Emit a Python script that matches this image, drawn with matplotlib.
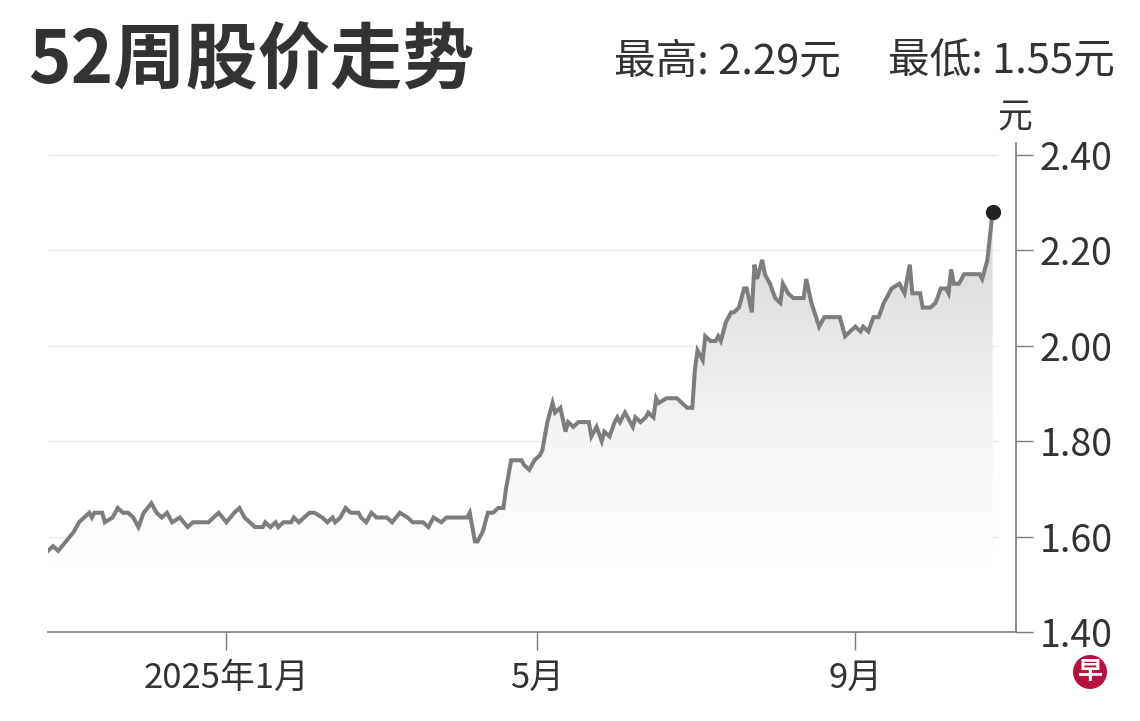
import matplotlib
matplotlib.use("Agg")
import matplotlib.pyplot as plt
import matplotlib.dates as mdates
from matplotlib.colors import LinearSegmentedColormap
from matplotlib.patches import Circle
import numpy as np
import pandas as pd

plt.rcParams['font.family'] = ['Noto Sans CJK SC', 'DejaVu Sans']

title = "52周股价走势"
high_label = "最高: 2.29元"
low_label = "最低: 1.55元"
unit = "元"

dates = [
    "2024-10-24", "2024-10-26", "2024-10-28", "2024-11-03", "2024-11-05", "2024-11-09",
    "2024-11-10", "2024-11-11", "2024-11-14", "2024-11-15", "2024-11-18", "2024-11-20",
    "2024-11-22", "2024-11-24", "2024-11-26", "2024-11-28", "2024-11-30", "2024-12-03",
    "2024-12-05", "2024-12-07", "2024-12-09", "2024-12-11", "2024-12-14", "2024-12-17",
    "2024-12-19", "2024-12-25", "2024-12-29",
    "2025-01-01", "2025-01-04", "2025-01-06", "2025-01-08", "2025-01-12", "2025-01-15",
    "2025-01-16", "2025-01-18", "2025-01-20", "2025-01-21", "2025-01-23", "2025-01-26",
    "2025-01-27", "2025-01-29",
    "2025-02-02", "2025-02-04", "2025-02-07", "2025-02-09", "2025-02-11", "2025-02-12",
    "2025-02-14", "2025-02-16", "2025-02-18", "2025-02-21", "2025-02-22", "2025-02-24",
    "2025-02-26", "2025-02-28",
    "2025-03-04", "2025-03-06", "2025-03-09", "2025-03-12", "2025-03-14", "2025-03-18",
    "2025-03-20", "2025-03-22", "2025-03-25", "2025-03-27",
    "2025-04-04", "2025-04-05", "2025-04-07", "2025-04-08", "2025-04-10", "2025-04-12",
    "2025-04-14", "2025-04-16", "2025-04-18", "2025-04-19", "2025-04-21", "2025-04-23",
    "2025-04-25", "2025-04-26", "2025-04-28", "2025-04-30",
    "2025-05-02", "2025-05-03", "2025-05-05", "2025-05-07", "2025-05-08", "2025-05-10",
    "2025-05-12", "2025-05-13", "2025-05-15", "2025-05-17", "2025-05-21", "2025-05-22",
    "2025-05-24", "2025-05-26", "2025-05-27", "2025-05-29", "2025-05-31",
    "2025-06-01", "2025-06-02", "2025-06-04", "2025-06-05", "2025-06-07", "2025-06-08",
    "2025-06-10", "2025-06-12", "2025-06-13", "2025-06-15", "2025-06-16", "2025-06-17",
    "2025-06-20", "2025-06-24", "2025-06-26", "2025-06-28", "2025-06-30",
    "2025-07-01", "2025-07-02", "2025-07-04", "2025-07-05", "2025-07-07", "2025-07-09",
    "2025-07-10", "2025-07-11", "2025-07-13", "2025-07-15", "2025-07-16", "2025-07-18",
    "2025-07-20", "2025-07-21", "2025-07-23", "2025-07-24", "2025-07-25", "2025-07-27",
    "2025-07-28", "2025-07-30",
    "2025-08-01", "2025-08-03", "2025-08-04", "2025-08-06", "2025-08-08", "2025-08-12",
    "2025-08-13", "2025-08-15", "2025-08-18", "2025-08-20", "2025-08-23", "2025-08-26",
    "2025-08-28",
    "2025-09-01", "2025-09-03", "2025-09-04", "2025-09-06", "2025-09-08", "2025-09-10",
    "2025-09-12", "2025-09-15", "2025-09-18", "2025-09-20", "2025-09-22", "2025-09-23",
    "2025-09-26", "2025-09-27", "2025-09-30",
    "2025-10-02", "2025-10-04", "2025-10-06", "2025-10-07", "2025-10-08", "2025-10-09",
    "2025-10-11", "2025-10-13", "2025-10-19", "2025-10-20", "2025-10-22", "2025-10-24",
]

prices = [
    1.57, 1.58, 1.57, 1.61, 1.63, 1.65,
    1.64, 1.65, 1.65, 1.63, 1.64, 1.66,
    1.65, 1.65, 1.64, 1.62, 1.65, 1.67,
    1.65, 1.64, 1.65, 1.63, 1.64, 1.62,
    1.63, 1.63, 1.65,
    1.63, 1.65, 1.66, 1.64, 1.62, 1.62,
    1.63, 1.62, 1.63, 1.62, 1.63, 1.63,
    1.64, 1.63,
    1.65, 1.65, 1.64, 1.63, 1.64, 1.63,
    1.64, 1.66, 1.65, 1.65, 1.64, 1.63,
    1.65, 1.64,
    1.64, 1.63, 1.65, 1.64, 1.63, 1.63,
    1.62, 1.64, 1.63, 1.64,
    1.64, 1.65, 1.59, 1.59, 1.61, 1.65,
    1.65, 1.66, 1.66, 1.70, 1.76, 1.76,
    1.76, 1.75, 1.74, 1.76,
    1.77, 1.78, 1.84, 1.88, 1.86, 1.87,
    1.82, 1.84, 1.83, 1.84, 1.84, 1.81,
    1.83, 1.80, 1.82, 1.81, 1.84,
    1.85, 1.84, 1.86, 1.85, 1.83, 1.85,
    1.84, 1.85, 1.86, 1.85, 1.89, 1.88,
    1.89, 1.89, 1.88, 1.87, 1.87,
    1.95, 1.99, 1.97, 2.02, 2.01, 2.01,
    2.02, 2.01, 2.05, 2.07, 2.07, 2.08,
    2.12, 2.12, 2.07, 2.17, 2.14, 2.18,
    2.15, 2.13,
    2.10, 2.09, 2.13, 2.11, 2.10, 2.10,
    2.14, 2.09, 2.04, 2.06, 2.06, 2.06,
    2.02,
    2.04, 2.03, 2.04, 2.03, 2.06, 2.06,
    2.09, 2.12, 2.13, 2.11, 2.17, 2.11,
    2.11, 2.08, 2.08,
    2.09, 2.12, 2.12, 2.11, 2.16, 2.13,
    2.13, 2.15, 2.15, 2.14, 2.18, 2.28,
]

y_ticks = [1.40, 1.60, 1.80, 2.00, 2.20, 2.40]
x_tick_dates = ["2025-01-01", "2025-05-01", "2025-09-01"]
x_tick_labels = ["2025年1月", "5月", "9月"]

text_color = "#333333"
axis_color = "#7a7a7a"

d = pd.to_datetime(dates)
x_end = pd.Timestamp("2025-11-02")

fig = plt.figure(figsize=(11.4, 7.21), dpi=100)
ax = fig.add_axes([0.042, 0.1234, 0.8491, 0.6783])

# light grid, stops at the last point
ax.hlines(y_ticks[1:], d[0], d[-1] + pd.Timedelta(days=2), color="#ececec", lw=1, zorder=0)

# gradient area under the line
area = ax.fill_between(d, prices, y_ticks[0], color="none", lw=0)
cmap = LinearSegmentedColormap.from_list(
    "fade", [(0, "#ffffff"), (0.15, "#ffffff"), (0.45, "#f5f5f5"), (1, "#d6d6d6")])
grad = np.linspace(1, 0, 256).reshape(-1, 1)
xl = (mdates.date2num(d[0]), mdates.date2num(d[-1]))
img = ax.imshow(grad, extent=[xl[0], xl[1], 1.40, 2.30], aspect="auto",
                cmap=cmap, zorder=1, interpolation="bilinear")
img.set_clip_path(area.get_paths()[0], transform=ax.transData)

ax.plot(d, prices, color="#7d7d7d", lw=2.9, zorder=3, solid_joinstyle="miter")
ax.plot(d[-1], prices[-1], "o", color="#222222", ms=10, zorder=4)

ax.set_xlim(d[0], x_end)
ax.set_ylim(1.40, 2.425)

for s in ["top", "left"]:
    ax.spines[s].set_visible(False)
for s in ["right", "bottom"]:
    ax.spines[s].set_color(axis_color)
    ax.spines[s].set_linewidth(1.2)

ax.yaxis.tick_right()
ax.set_yticks(y_ticks)
ax.set_yticklabels([f"{v:.2f}" for v in y_ticks])
ax.tick_params(axis="y", length=12, width=1, color=axis_color, pad=5,
               labelsize=27, labelcolor=text_color)

ax.set_xticks(pd.to_datetime(x_tick_dates))
ax.set_xticklabels(x_tick_labels)
ax.tick_params(axis="x", length=13, width=1, color=axis_color, pad=8,
               labelsize=25, labelcolor=text_color)

fig.text(1015 / 1140, 1 - 118 / 721, unit, fontsize=25, color=text_color,
         ha="center", va="center")

fig.text(28 / 1140, 1 - 62 / 721, title, fontsize=52, fontweight="bold",
         color=text_color, va="center")
fig.text(614 / 1140, 1 - 62 / 721, high_label, fontsize=30, color=text_color, va="center")
fig.text(888 / 1140, 1 - 62 / 721, low_label, fontsize=30, color=text_color, va="center")

# logo
logo = Circle((10.90, 0.49), 0.17, transform=fig.dpi_scale_trans,
              facecolor="#b8103c", edgecolor="none")
fig.add_artist(logo)
fig.text(10.90 / 11.4, 0.49 / 7.21, "早", fontsize=18, fontweight="bold",
         color="white", ha="center", va="center")

fig.savefig("out.png", dpi=100)
plt.close(fig)
